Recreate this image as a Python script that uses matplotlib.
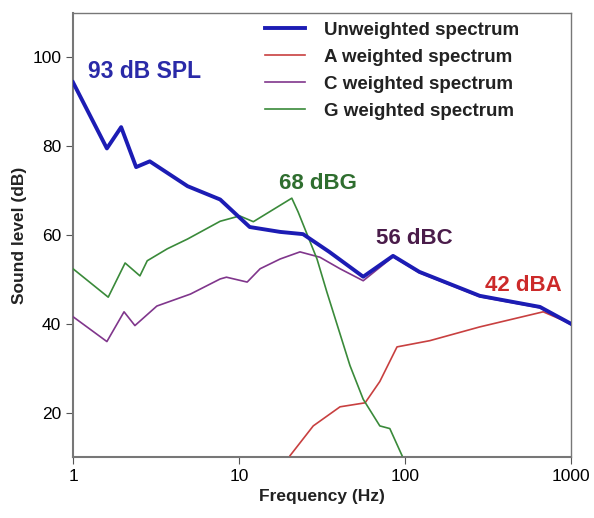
import matplotlib.pyplot as plt
import numpy as np

plt.rcParams['font.family'] = ['Liberation Sans', 'DejaVu Sans']

# frequency (Hz) / level (dB)
unw_f = [1.0, 1.6, 1.95, 2.4, 2.9, 4.9, 7.7, 11.6, 17.7, 24.3, 35, 56, 84.7, 122, 282, 650, 1000]
unw_db = [94.4, 79.5, 84.3, 75.3, 76.6, 71.0, 68.0, 61.8, 60.7, 60.2, 56.2, 50.6, 55.3, 51.7, 46.3, 43.8, 40.0]

a_f = [20.3, 28, 40.6, 57.5, 70.5, 89.5, 141, 282, 680, 1000]
a_db = [10.3, 17.0, 21.3, 22.2, 27.0, 34.8, 36.2, 39.3, 42.7, 40.0]

c_f = [1.0, 1.6, 2.03, 2.36, 3.2, 5.1, 7.7, 8.4, 11.2, 13.4, 17.7, 23.3, 30.7, 40.6, 56, 84.7, 122, 282, 650, 1000]
c_db = [41.6, 36.0, 42.7, 39.6, 44.0, 46.7, 50.1, 50.5, 49.4, 52.4, 54.6, 56.2, 55.0, 52.4, 49.7, 55.1, 51.5, 46.1, 43.6, 39.8]

g_f = [1.0, 1.63, 2.06, 2.53, 2.8, 3.7, 4.9, 7.7, 10.1, 12.2, 20.8, 22.7, 29.5, 33.8, 46.6, 56, 70.5, 81, 96]
g_db = [52.4, 46.0, 53.7, 50.8, 54.2, 56.9, 59.1, 63.1, 64.3, 63.0, 68.3, 65.2, 54.6, 47.2, 30.6, 23.0, 17.0, 16.4, 10.3]

fig = plt.figure(figsize=(5.94, 5.18), dpi=100)
ax = fig.add_axes([0.1229, 0.1178, 0.8384, 0.857])

ax.plot(unw_f, unw_db, color='#1c1cb4', lw=2.8, label='Unweighted spectrum', zorder=4)
ax.plot(a_f, a_db, color='#c84040', lw=1.2, label='A weighted spectrum', zorder=3)
ax.plot(c_f, c_db, color='#80368c', lw=1.2, label='C weighted spectrum', zorder=3)
ax.plot(g_f, g_db, color='#3a8a3a', lw=1.2, label='G weighted spectrum', zorder=3)

ax.set_xscale('log')
ax.set_xlim(1, 1000)
ax.set_ylim(10, 110)
ax.set_xticks([1, 10, 100, 1000])
ax.set_xticklabels(['1', '10', '100', '1000'])
ax.set_yticks([20, 40, 60, 80, 100])
ax.minorticks_off()
ax.tick_params(labelsize=12.5, length=5, color='#555555')

for s in ax.spines.values():
    s.set_color('#777777')
    s.set_linewidth(1.0)
ax.spines['left'].set_linewidth(1.5)
ax.spines['bottom'].set_linewidth(1.5)

ax.set_xlabel('Frequency (Hz)', fontsize=12.5, fontweight='bold', color='#222222')
ax.set_ylabel('Sound level (dB)', fontsize=12.5, fontweight='bold', color='#222222')

ax.text(1.23, 96.9, '93 dB SPL', color='#2a2aa8', fontsize=16.5, fontweight='bold', va='center')
ax.text(30, 71.5, '68 dBG', color='#2f6e2f', fontsize=16, fontweight='bold', ha='center', va='center')
ax.text(114, 59.2, '56 dBC', color='#4a1c4a', fontsize=16, fontweight='bold', ha='center', va='center')
ax.text(520, 48.6, '42 dBA', color='#cc2a2a', fontsize=16, fontweight='bold', ha='center', va='center')

leg = ax.legend(loc='upper left', bbox_to_anchor=(0.386, 0.98), frameon=False,
                borderpad=0, borderaxespad=0,
                fontsize=13.5, handlelength=2.1, labelspacing=0.52, handletextpad=1.05)
for t in leg.get_texts():
    t.set_fontweight('bold')
    t.set_color('#222222')

fig.savefig('out.png', dpi=100)
